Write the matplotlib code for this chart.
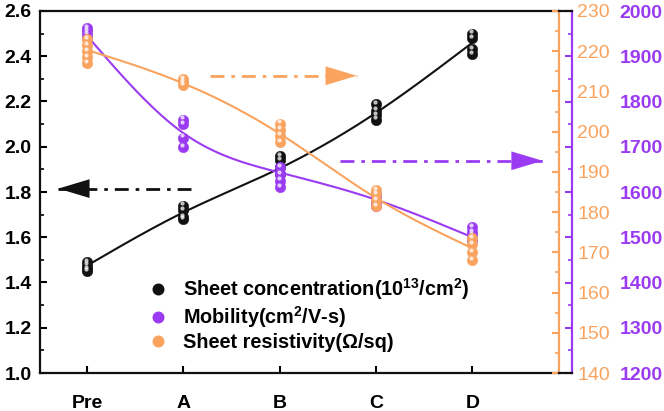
import numpy as np
import matplotlib
matplotlib.use("Agg")
import matplotlib.pyplot as plt
from matplotlib.lines import Line2D
from matplotlib.ticker import MultipleLocator
import matplotlib.transforms as mtransforms

plt.rcParams['font.family'] = ['Liberation Sans', 'DejaVu Sans']
plt.rcParams['mathtext.fontset'] = 'custom'
plt.rcParams['mathtext.rm'] = 'Liberation Sans:bold'
plt.rcParams['mathtext.it'] = 'Liberation Sans:bold:italic'
plt.rcParams['mathtext.bf'] = 'Liberation Sans:bold'

# ---------------- data ----------------
categories = ['Pre', 'A', 'B', 'C', 'D']

conc_points = [
    [1.45, 1.46, 1.475, 1.49],
    [1.68, 1.69, 1.72, 1.74],
    [1.88, 1.91, 1.94, 1.96],
    [2.12, 2.14, 2.16, 2.19],
    [2.41, 2.43, 2.48, 2.50],
]
conc_fit = [1.475, 1.71, 1.905, 2.15, 2.46]

mob_points = [
    [1940, 1948, 1955, 1962],
    [1700, 1720, 1750, 1760],
    [1610, 1625, 1640, 1655],
    [1568, 1578, 1588, 1595],
    [1495, 1505, 1512, 1522],
]
mob_fit = [1945, 1730, 1643, 1583, 1500]

res_points = [
    [217.0, 218.5, 220.0, 221.5, 223.0],
    [211.5, 212.3, 213.0],
    [197.5, 199.0, 200.5, 202.0],
    [181.5, 183.0, 184.5, 185.5],
    [168.0, 170.0, 172.0, 173.5],
]
res_fit = [220.3, 212.0, 199.5, 183.5, 171.0]

labels = ['Sheet concentration(10$^{13}$/cm$^{2}$)',
          'Mobility(cm$^{2}$/V-s)',
          'Sheet resistivity(\u03a9/sq)']

C_BLACK = '#111111'
C_PURPLE = '#9A3BF2'
C_ORANGE = '#F9A35F'


def natural_spline(x, y, xs):
    x = np.asarray(x, float); y = np.asarray(y, float)
    n = len(x)
    h = np.diff(x)
    A = np.zeros((n, n)); b = np.zeros(n)
    A[0, 0] = 1; A[-1, -1] = 1
    for i in range(1, n - 1):
        A[i, i - 1] = h[i - 1]
        A[i, i] = 2 * (h[i - 1] + h[i])
        A[i, i + 1] = h[i]
        b[i] = 3 * ((y[i + 1] - y[i]) / h[i] - (y[i] - y[i - 1]) / h[i - 1])
    c = np.linalg.solve(A, b)
    out = np.empty_like(xs)
    for k, xv in enumerate(xs):
        i = min(max(np.searchsorted(x, xv) - 1, 0), n - 2)
        dx = xv - x[i]
        bi = (y[i + 1] - y[i]) / h[i] - h[i] * (2 * c[i] + c[i + 1]) / 3
        di = (c[i + 1] - c[i]) / (3 * h[i])
        out[k] = y[i] + bi * dx + c[i] * dx ** 2 + di * dx ** 3
    return out


fig = plt.figure(figsize=(6.64, 4.11), dpi=100)
ax = fig.add_axes([40 / 664, 1 - 373 / 411, 519 / 664, 362 / 411])
axp = ax.twinx()
axo = ax.twinx()

xpos = np.arange(len(categories))
xs = np.linspace(0, len(categories) - 1, 200)


def balls(a, color, pts):
    for i, vals in enumerate(pts):
        xv = np.full(len(vals), xpos[i], float)
        a.plot(xv, vals, 'o', ms=7.6, mfc=color, mec=color, mew=0.3, zorder=3)
        off = mtransforms.offset_copy(a.transData, fig=fig, x=-0.8, y=1.6, units='points')
        a.plot(xv, vals, 'o', ms=3.0, mfc='white', mec='none', alpha=0.75,
               transform=off, zorder=4)


ax.plot(xs, natural_spline(xpos, conc_fit, xs), color=C_BLACK, lw=1.5, zorder=2)
balls(ax, C_BLACK, conc_points)
axp.plot(xs, natural_spline(xpos, mob_fit, xs), color=C_PURPLE, lw=1.5, zorder=2)
balls(axp, C_PURPLE, mob_points)
axo.plot(xs, natural_spline(xpos, res_fit, xs), color=C_ORANGE, lw=1.5, zorder=2)
balls(axo, C_ORANGE, res_points)

ax.set_xlim(-0.49, 4.9)
ax.set_ylim(1.0, 2.6)
axp.set_ylim(1200, 2000)
axo.set_ylim(140, 230)

ax.set_xticks(xpos)
ax.set_xticklabels(categories, fontsize=14, fontweight='bold')
ax.yaxis.set_major_locator(MultipleLocator(0.2))
ax.yaxis.set_minor_locator(MultipleLocator(0.1))
ax.yaxis.set_major_formatter(matplotlib.ticker.FormatStrFormatter('%.1f'))
for t in ax.get_yticklabels():
    t.set_fontweight('bold')
ax.tick_params(axis='y', which='both', direction='in', labelsize=14, pad=6)
ax.tick_params(axis='y', which='major', length=5, width=1.5)
ax.tick_params(axis='y', which='minor', length=3, width=1.2)
ax.tick_params(axis='x', direction='in', length=5, width=1.5, pad=16)
ax.tick_params(axis='y', right=False)

for s in ['left', 'bottom', 'top']:
    ax.spines[s].set_linewidth(1.6)
    ax.spines[s].set_color(C_BLACK)
ax.spines['right'].set_visible(False)

# orange axis
axo.yaxis.set_major_locator(MultipleLocator(10))
axo.yaxis.set_minor_locator(MultipleLocator(5))
axo.tick_params(axis='y', which='both', direction='in', colors=C_ORANGE, labelsize=14, pad=13)
axo.tick_params(axis='y', which='major', length=5, width=1.5)
axo.tick_params(axis='y', which='minor', length=3, width=1.2)
for s in ['left', 'top', 'bottom']:
    axo.spines[s].set_visible(False)
axo.spines['right'].set_color(C_ORANGE)
axo.spines['right'].set_linewidth(1.6)

# purple axis
axp.spines['right'].set_position(('outward', 9.4))
axp.yaxis.set_major_locator(MultipleLocator(100))
axp.yaxis.set_minor_locator(MultipleLocator(50))
axp.tick_params(axis='y', which='both', direction='in', colors=C_PURPLE, labelsize=14, pad=34)
axp.tick_params(axis='y', which='major', length=5, width=1.5)
axp.tick_params(axis='y', which='minor', length=3, width=1.2)
for t in axp.get_yticklabels():
    t.set_fontweight('bold')
for s in ['left', 'top', 'bottom']:
    axp.spines[s].set_visible(False)
axp.spines['right'].set_color(C_PURPLE)
axp.spines['right'].set_linewidth(1.6)

# black frame extensions to the purple spine
for yy in (11, 373):
    fig.add_artist(Line2D([559 / 664, 572 / 664], [1 - yy / 411, 1 - yy / 411],
                          transform=fig.transFigure, color=C_BLACK, lw=1.6))

# dash-dot arrows
def dash_arrow(a, x0, x1, y, color):
    a.plot([x0, x1], [y, y], color=color, lw=2.0, dashes=(5, 2.5, 1.3, 2.5), zorder=2)
    a.annotate('', xy=(x1, y), xytext=(x1 - 0.01 * np.sign(x1 - x0), y),
               arrowprops=dict(arrowstyle='-|>,head_length=1.5,head_width=0.45',
                               color=color, lw=0, mutation_scale=15), zorder=2)

dash_arrow(ax, 1.08, -0.30, 1.815, C_BLACK)
dash_arrow(axo, 1.28, 2.80, 213.9, C_ORANGE)
dash_arrow(axp, 2.63, 4.73, 1669, C_PURPLE)

handles = [Line2D([], [], ls='none', marker='o', ms=7.6, mfc=c, mec=c)
           for c in (C_BLACK, C_PURPLE, C_ORANGE)]
leg = fig.legend(handles, labels, loc='upper left',
                 bbox_to_anchor=(148 / 664, 1 - 276 / 411),
                 frameon=False, prop={'size': 14.3, 'weight': 'bold'},
                 handlelength=1.0, handletextpad=0.75, labelspacing=0.12,
                 borderpad=0, borderaxespad=0)

fig.savefig('out.png', dpi=100)
